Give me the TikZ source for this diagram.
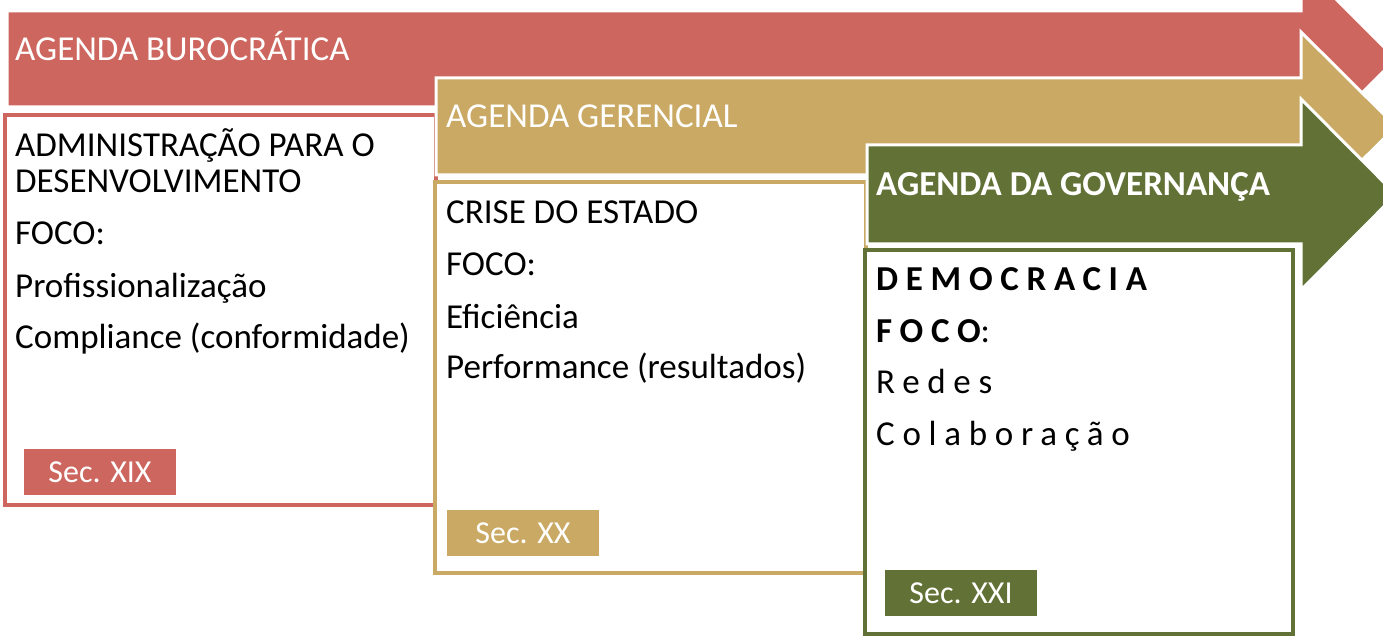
\documentclass[tikz,border=0pt]{standalone}
\usepackage{fontspec}
\setmainfont{Carlito}
\newfontfamily\spacedfont[LetterSpace=22]{Carlito}
\definecolor{bur}{HTML}{CD665E}
\definecolor{ger}{HTML}{C9A963}
\definecolor{gov}{HTML}{627236}
\tikzset{band/.style={fill=#1, draw=white, line width=3pt},
         panel/.style={draw=#1, line width=4pt, fill=white},
         headtxt/.style={anchor=base west, inner sep=0pt, text=white, font=\fontsize{35}{37}\selectfont},
         txt/.style={anchor=base west, inner sep=0pt, font=\fontsize{35}{37}\selectfont},
         era/.style={fill=#1, text=white, inner sep=0pt, minimum width=152pt, minimum height=46pt, font=\fontsize{32}{34}\selectfont}}

\begin{document}
\begin{tikzpicture}[x=1pt, y=-1pt]
\clip (0,0) rectangle (1383,636);
% burocratica
\path[band=bur] (7,11) -- (1301,11) -- (1301,-36) -- (1396,59) -- (1301,154) -- (1301,107) -- (7,107) -- cycle;
\node[headtxt] (buro) at (15,61) {AGENDA BUROCRÁTICA};
\draw[panel=bur] (5,115) rectangle (436,505);
\node[txt] (buro1) at (15,157) {ADMINISTRAÇÃO PARA O};
\node[txt] (buro2) at (15,193) {DESENVOLVIMENTO};
\node[txt] (buro3) at (15,245) {FOCO:};
\node[txt] (buro4) at (15,297) {Profissionalização};
\node[txt] (buro5) at (15,348) {Compliance (conformidade)};
\node[era=bur] (sec19) at (100,472) {Sec. XIX};
% gerencial
\path[band=ger] (436,78) -- (1301,78) -- (1301,32) -- (1396,126.5) -- (1301,221) -- (1301,175) -- (436,175) -- cycle;
\node[headtxt] (ger) at (446,128) {AGENDA GERENCIAL};
\draw[panel=ger] (435,182) rectangle (866,573);
\node[txt] (ger1) at (446,224) {CRISE DO ESTADO};
\node[txt] (ger2) at (446,275) {FOCO:};
\node[txt] (ger3) at (446,328) {Eficiência};
\node[txt] (ger4) at (446,378) {Performance (resultados)};
\node[era=ger] (sec20) at (523,533) {Sec. XX};
% governanca
\path[band=gov] (867,145) -- (1301,145) -- (1301,99) -- (1396,194.5) -- (1301,290) -- (1301,244) -- (867,244) -- cycle;
\node[headtxt, font=\fontsize{35}{37}\selectfont\bfseries] (gov) at (876,196) {AGENDA DA GOVERNANÇA};
\draw[panel=gov] (865,250) rectangle (1293,634);
\node[txt] (gov1) at (876,290) {\spacedfont\bfseries DEMOCRACIA};
\node[txt] (gov2) at (876,342) {{\spacedfont\bfseries FOCO}:};
\node[txt] (gov3) at (876,393) {\spacedfont Redes};
\node[txt] (gov4) at (876,445) {\spacedfont Colaboração};
\node[era=gov] (sec21) at (961,593) {Sec. XXI};
\end{tikzpicture}
\end{document}
